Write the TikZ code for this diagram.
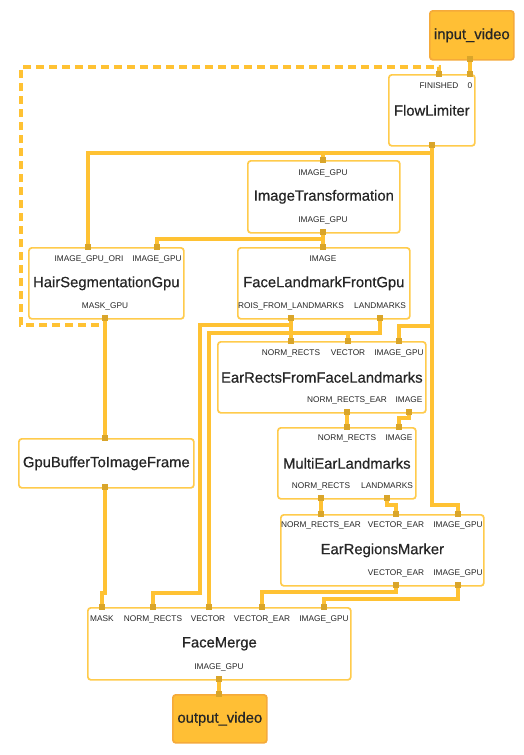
\documentclass[tikz,border=0pt]{standalone}
\usepackage{fontspec}
\setmainfont{Liberation Sans}
\newfontfamily\titlefam[FakeBold=0.6]{Liberation Sans}
\usetikzlibrary{backgrounds}

\definecolor{wirec}{HTML}{FFC233}
\definecolor{boxedge}{HTML}{FFCB4C}
\definecolor{portc}{HTML}{D9A52A}
\definecolor{streamfill}{HTML}{FFBF35}
\definecolor{streamedge}{HTML}{F5AA3A}
\definecolor{txt}{HTML}{262626}

\newcommand\boxfont{\titlefam\fontsize{14.8}{16}\selectfont}
\newcommand\portfont{\fontsize{8.3}{9}\selectfont}

\tikzset{
  calcbox/.style={draw=boxedge, line width=1.7pt, rounded corners=3pt, fill=white,
    font=\boxfont, text=txt, inner sep=0pt, anchor=north west},
  streambox/.style={calcbox, draw=streamedge, fill=streamfill},
  port/.style={fill=portc, draw=none, minimum size=6pt, inner sep=0pt},
  tag/.style={font=\portfont, text=txt, inner sep=0pt, text height=6pt, text depth=0pt},
  wire/.style={draw=wirec, line width=3.3pt},
  loopwire/.style={wire, dash pattern=on 8pt off 5pt},
}

\begin{document}
\begin{tikzpicture}[x=1pt,y=-1pt]
  \useasboundingbox (0,0) rectangle (524,755);

  % streams and calculators
  \node[streambox, minimum width=84pt, minimum height=49pt] (invideo) at (429,10) {input\_video};
  \node[calcbox, minimum width=86pt, minimum height=71pt] (flowlim) at (388,74) {FlowLimiter};
  \node[calcbox, minimum width=152pt, minimum height=72pt] (imgtrans) at (247,160) {ImageTransformation};
  \node[calcbox, minimum width=155pt, minimum height=71pt] (hairseg) at (28,247) {HairSegmentationGpu};
  \node[calcbox, minimum width=172pt, minimum height=71pt] (facelm) at (237,247) {FaceLandmarkFrontGpu};
  \node[calcbox, minimum width=175pt, minimum height=49pt] (gpubuf) at (18,438) {GpuBufferToImageFrame};
  \node[calcbox, minimum width=208pt, minimum height=71pt] (earrects) at (217,341) {EarRectsFromFaceLandmarks};
  \node[calcbox, minimum width=138pt, minimum height=71pt] (multiear) at (277,427) {MultiEarLandmarks};
  \node[calcbox, minimum width=203pt, minimum height=71pt] (earmark) at (280,514) {EarRegionsMarker};
  \node[calcbox, minimum width=263pt, minimum height=72pt] (facemerge) at (87,607) {FaceMerge};
  \node[streambox, minimum width=94pt, minimum height=48pt] (outvideo) at (172,694) {output\_video};

  % port tags
  \node[tag] (fl-t1) at (439,85) {FINISHED};
  \node[tag] (fl-t2) at (470,85) {0};
  \node[tag] (it-t1) at (323,172) {IMAGE\_GPU};
  \node[tag] (it-t2) at (323,219) {IMAGE\_GPU};
  \node[tag] (hs-t1) at (89,258) {IMAGE\_GPU\_ORI};
  \node[tag] (hs-t2) at (157,258) {IMAGE\_GPU};
  \node[tag] (hs-t3) at (105,305) {MASK\_GPU};
  \node[tag] (flf-t1) at (323,258) {IMAGE};
  \node[tag] (flf-t2) at (291,305) {ROIS\_FROM\_LANDMARKS};
  \node[tag] (flf-t3) at (380,305) {LANDMARKS};
  \node[tag] (er-t1) at (291,352) {NORM\_RECTS};
  \node[tag] (er-t2) at (348,352) {VECTOR};
  \node[tag] (er-t3) at (399,352) {IMAGE\_GPU};
  \node[tag] (er-t4) at (347,399) {NORM\_RECTS\_EAR};
  \node[tag] (er-t5) at (409,399) {IMAGE};
  \node[tag] (me-t1) at (347,437) {NORM\_RECTS};
  \node[tag] (me-t2) at (399,437) {IMAGE};
  \node[tag] (me-t3) at (321,485) {NORM\_RECTS};
  \node[tag] (me-t4) at (387,485) {LANDMARKS};
  \node[tag] (rm-t1) at (321,524) {NORM\_RECTS\_EAR};
  \node[tag] (rm-t2) at (396,524) {VECTOR\_EAR};
  \node[tag] (rm-t3) at (458,524) {IMAGE\_GPU};
  \node[tag] (rm-t4) at (396,572) {VECTOR\_EAR};
  \node[tag] (rm-t5) at (458,572) {IMAGE\_GPU};
  \node[tag] (fm-t1) at (102,618) {MASK};
  \node[tag] (fm-t2) at (153,618) {NORM\_RECTS};
  \node[tag] (fm-t3) at (208,618) {VECTOR};
  \node[tag] (fm-t4) at (262,618) {VECTOR\_EAR};
  \node[tag] (fm-t5) at (324,618) {IMAGE\_GPU};
  \node[tag] (fm-t6) at (219,666) {IMAGE\_GPU};

  % ports
  \node[port] (iv-out) at (470,59) {};
  \node[port] (fl-fin) at (439,74) {};
  \node[port] (fl-zero) at (470,74) {};
  \node[port] (fl-out) at (432,145) {};
  \node[port] (it-in) at (323,160) {};
  \node[port] (it-out) at (323,232) {};
  \node[port] (hs-ori) at (88,247) {};
  \node[port] (hs-img) at (157,247) {};
  \node[port] (hs-mask) at (105,318) {};
  \node[port] (flf-img) at (323,247) {};
  \node[port] (flf-rois) at (291,318) {};
  \node[port] (flf-lm) at (380,318) {};
  \node[port] (gb-in) at (105,438) {};
  \node[port] (gb-out) at (105,487) {};
  \node[port] (er-nr) at (291,341) {};
  \node[port] (er-vec) at (348,341) {};
  \node[port] (er-img) at (399,341) {};
  \node[port] (er-nre) at (347,412) {};
  \node[port] (er-out) at (409,412) {};
  \node[port] (me-nr) at (347,427) {};
  \node[port] (me-img) at (399,427) {};
  \node[port] (me-nro) at (321,498) {};
  \node[port] (me-lm) at (387,498) {};
  \node[port] (rm-nre) at (321,514) {};
  \node[port] (rm-vec) at (396,514) {};
  \node[port] (rm-img) at (458,514) {};
  \node[port] (rm-vout) at (396,585) {};
  \node[port] (rm-iout) at (458,585) {};
  \node[port] (fm-mask) at (102,607) {};
  \node[port] (fm-nr) at (153,607) {};
  \node[port] (fm-vec) at (209,607) {};
  \node[port] (fm-vear) at (262,607) {};
  \node[port] (fm-img) at (324,607) {};
  \node[port] (fm-out) at (219,679) {};
  \node[port] (ov-in) at (219,694) {};

  \coordinate (loopleft) at (21,67);

  % connections
  \begin{pgfonlayer}{background}
    \fill[white] (0,0) rectangle (524,755);
    \draw[wire] (iv-out.center) -- (fl-zero.center);
    \draw[loopwire] (hs-mask.center) -- ++(0,7) -| (loopleft) -| (fl-fin.center);
    \draw[wire] (fl-out.center) -- ++(0,8) -| (hs-ori.center);
    \draw[wire] (fl-out.center) -- ++(0,8) -| (it-in.center);
    \draw[wire] (fl-out.center) -- ++(0,181) -| (er-img.center);
    \draw[wire] (fl-out.center) -- ++(0,360) -| (rm-img.center);
    \draw[wire] (it-out.center) -- (flf-img.center);
    \draw[wire] (it-out.center) -- ++(0,7) -| (hs-img.center);
    \draw[wire] (hs-mask.center) -- (gb-in.center);
    \draw[wire] (flf-rois.center) -- (er-nr.center);
    \draw[wire] (flf-rois.center) -- ++(0,7) -| ++(-91,268) -| (fm-nr.center);
    \draw[wire] (flf-lm.center) -- ++(0,15) -| (er-vec.center);
    \draw[wire] (flf-lm.center) -- ++(0,15) -| (fm-vec.center);
    \draw[wire] (er-nre.center) -- (me-nr.center);
    \draw[wire] (er-out.center) -- ++(0,6) -| (me-img.center);
    \draw[wire] (me-nro.center) -- (rm-nre.center);
    \draw[wire] (me-lm.center) -- ++(0,7) -| (rm-vec.center);
    \draw[wire] (rm-vout.center) -- ++(0,7) -| (fm-vear.center);
    \draw[wire] (rm-iout.center) -- ++(0,14) -| (fm-img.center);
    \draw[wire] (gb-out.center) -- ++(0,106) -| (fm-mask.center);
    \draw[wire] (fm-out.center) -- (ov-in.center);
  \end{pgfonlayer}
\end{tikzpicture}
\end{document}
